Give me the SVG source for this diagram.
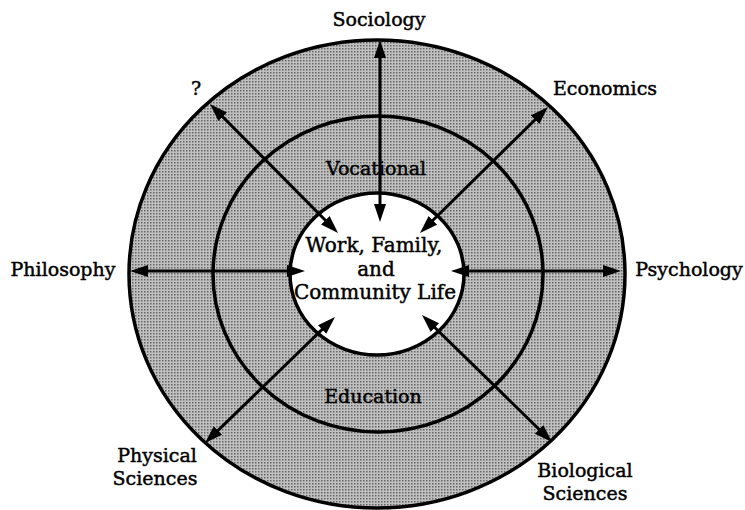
<svg xmlns="http://www.w3.org/2000/svg" width="745" height="510" viewBox="0 0 745 510">
<style>
.ring{stroke:#000;stroke-width:3.5}
.lbl{font-family:"DejaVu Serif","Liberation Serif",serif;font-size:19px;fill:#000;stroke:#000;stroke-width:0.45;text-anchor:middle}
.ctr{font-size:20px}
.arr{stroke:#000;stroke-width:3;fill:none;marker-start:url(#ah);marker-end:url(#ah)}
</style>
<defs>
<pattern id="dots" width="3" height="3" patternUnits="userSpaceOnUse">
<rect width="3" height="3" fill="#c0c0c0"/>
<rect width="1.5" height="1.5" fill="#666"/>
</pattern>
<marker id="ah" markerUnits="userSpaceOnUse" markerWidth="19" markerHeight="13" refX="12" refY="6" orient="auto-start-reverse">
<path d="M0,0 L18,6 L0,12 Z" fill="#000"/>
</marker>
</defs>
<rect width="745" height="510" fill="#fff"/>
<g id="outer-ring"><ellipse class="ring" cx="377" cy="274" rx="248" ry="234" fill="url(#dots)"/></g>
<g id="education-vocational-ring">
<ellipse class="ring" cx="378" cy="274" rx="165" ry="158" fill="url(#dots)"/>
<text class="lbl" x="376" y="175">Vocational</text>
<text class="lbl" x="373" y="403">Education</text>
</g>
<g id="center">
<ellipse class="ring" cx="377" cy="274" rx="87" ry="81" fill="#fff"/>
<text class="lbl ctr" x="374" y="252">Work, Family,</text>
<text class="lbl ctr" x="376" y="276">and</text>
<text class="lbl ctr" x="375" y="299">Community Life</text>
</g>
<g id="connectors">
<line class="arr" x1="380" y1="46" x2="380" y2="216"/>
<line class="arr" x1="136" y1="271" x2="299" y2="271"/>
<line class="arr" x1="615" y1="271" x2="457" y2="271"/>
<line class="arr" x1="214.2" y1="108.2" x2="333.8" y2="228.8"/>
<line class="arr" x1="543.7" y1="111.2" x2="424.3" y2="228.8"/>
<line class="arr" x1="209.3" y1="438.8" x2="330.7" y2="321.2"/>
<line class="arr" x1="547.7" y1="437.8" x2="426.3" y2="319.2"/>
</g>
<g id="sociology"><text class="lbl" x="379" y="26">Sociology</text></g>
<g id="unknown"><text class="lbl" x="196" y="95">?</text></g>
<g id="economics"><text class="lbl" x="605" y="95">Economics</text></g>
<g id="philosophy"><text class="lbl" x="63" y="276">Philosophy</text></g>
<g id="psychology"><text class="lbl" x="689" y="276">Psychology</text></g>
<g id="physical-sciences"><text class="lbl" x="157" y="462">Physical</text><text class="lbl" x="155" y="485">Sciences</text></g>
<g id="biological-sciences"><text class="lbl" x="585" y="477">Biological</text><text class="lbl" x="585" y="500">Sciences</text></g>
</svg>
